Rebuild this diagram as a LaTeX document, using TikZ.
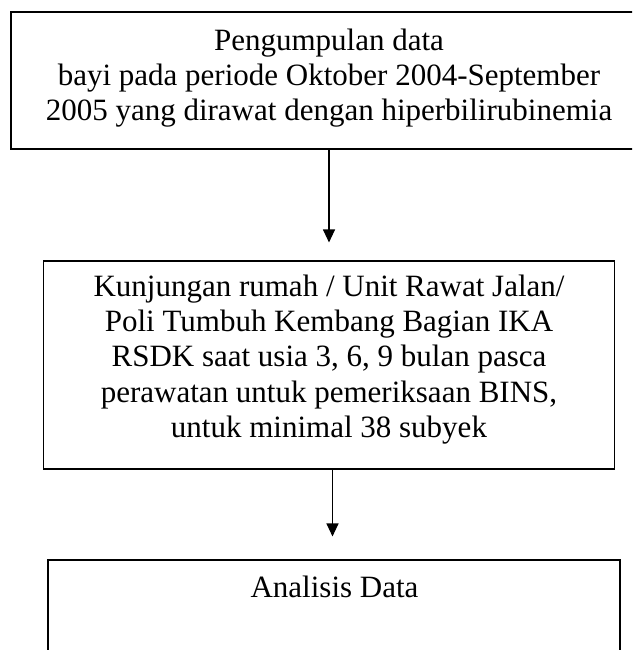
\documentclass[tikz,border=0pt]{standalone}
\usepackage{fontspec}
\setmainfont{Liberation Serif}
\usetikzlibrary{arrows.meta}
\tikzset{
    flow-box/.style = {draw=black, line width=1.1pt, rectangle, inner sep=0pt},
    flow-text/.style = {align=center, inner sep=0pt, font=\fontsize{31}{35.3}\selectfont},
    flow-arrow/.style = {line width=1.1pt, -{Triangle[length=13pt,width=12pt]}},
}
\begin{document}
\begin{tikzpicture}[x=1pt, y=1pt]
\useasboundingbox (0,0) rectangle (632,-650);
\clip (0,0) rectangle (632,-650);
\node [flow-box, minimum width=636pt, minimum height=137pt] (collect) at (329,-80.5) {};
\node [flow-text] (collect-text) at (329,-78) {Pengumpulan data\\ bayi pada periode Oktober 2004-September\\ 2005 yang dirawat dengan hiperbilirubinemia};
\node [flow-box, minimum width=571.5pt, minimum height=208pt] (visit) at (329,-365) {};
\node [flow-text] (visit-text) at (329,-359.5) {Kunjungan rumah / Unit Rawat Jalan/\\ Poli Tumbuh Kembang Bagian IKA\\ RSDK saat usia 3, 6, 9 bulan pasca\\ perawatan untuk pemeriksaan BINS,\\ untuk minimal 38 subyek};
\node [flow-box, minimum width=572pt, minimum height=130pt] (analysis) at (334,-625) {};
\node [flow-text, anchor=base] (analysis-text) at (334.5,-597) {Analisis Data};
\draw [flow-arrow, shorten >=18pt] (collect.south) -- (visit.north);
\draw [flow-arrow, shorten >=23pt] ([xshift=3.5pt]visit.south) -- ([xshift=3.5pt]visit.south |- analysis.north);
\end{tikzpicture}
\end{document}
